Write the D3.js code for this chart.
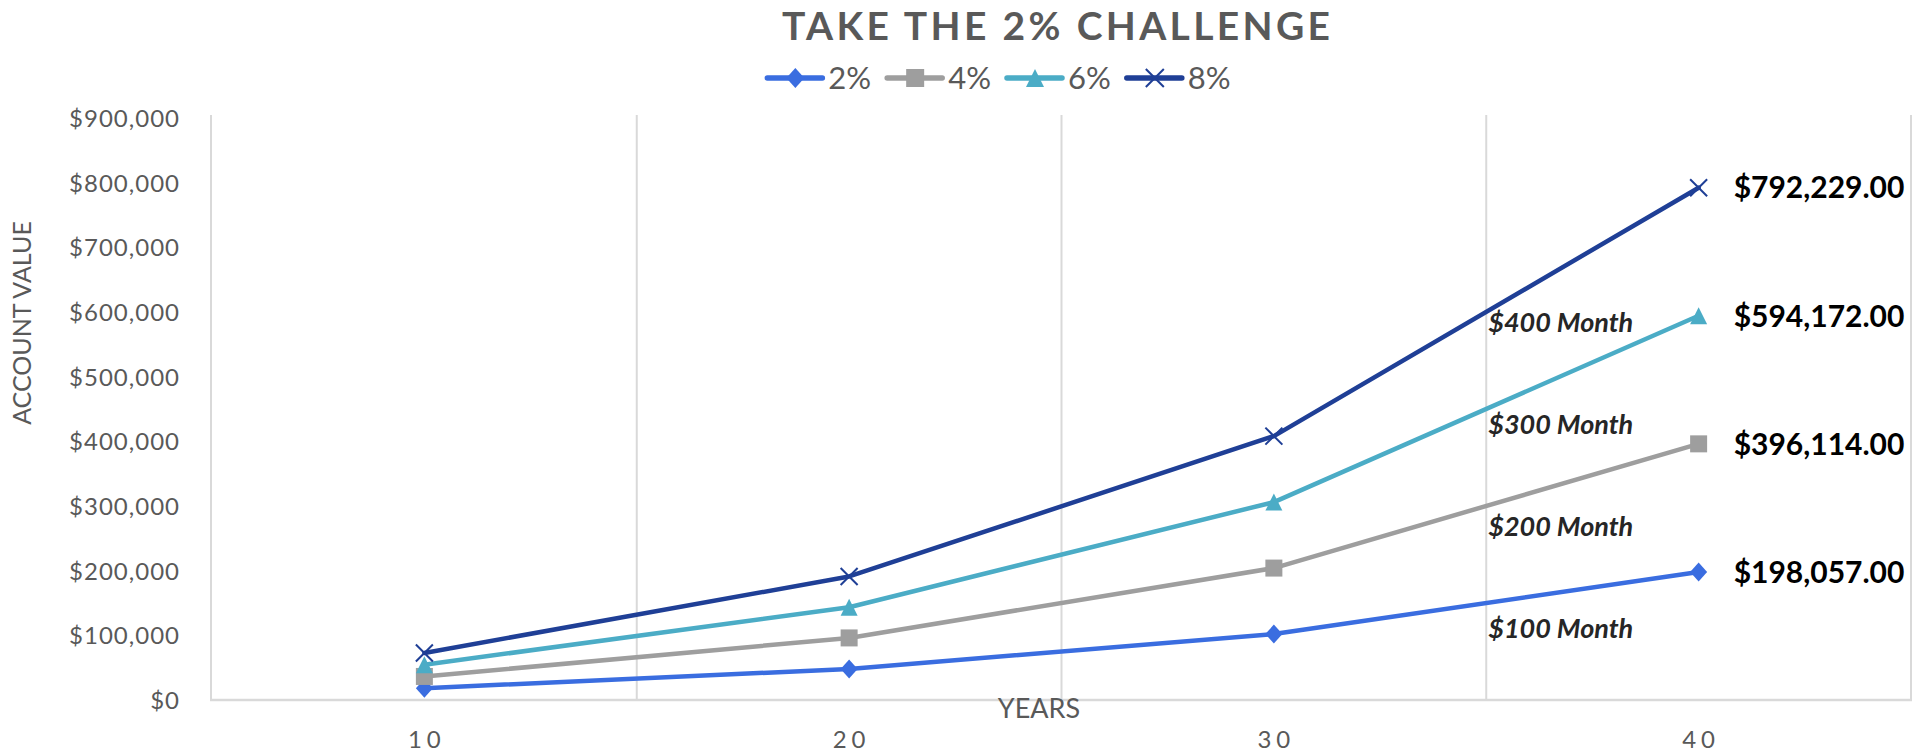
<!DOCTYPE html>
<html><head><meta charset="utf-8">
<script src="https://cdn.jsdelivr.net/npm/d3@7"></script>
<style>
html,body{margin:0;padding:0;background:#fff;}
svg{display:block;font-family:Lato,"Open Sans",sans-serif;}
</style></head><body>
<svg id="chart" width="1931" height="756"></svg>
<script>
// ---- data ----
const years = ["10", "20", "30", "40"];
const seriesNames = ["2%", "4%", "6%", "8%"];
const values2 = [18200, 48000, 102000, 198057];
const values4 = [36400, 96000, 204000, 396114];
const values6 = [54600, 143500, 306000, 594172];
const values8 = [72800, 191000, 408100, 792229];
const endLabels = ["$198,057.00", "$396,114.00", "$594,172.00", "$792,229.00"];
const monthNotes = ["$100 Month", "$200 Month", "$300 Month", "$400 Month"];
const yTicks = [0, 100000, 200000, 300000, 400000, 500000, 600000, 700000, 800000, 900000];
const chartTitle = "TAKE THE 2% CHALLENGE";
const xTitle = "YEARS";
const yTitle = "ACCOUNT VALUE";

// ---- styles / layout ----
const colors = ["#3a6de0", "#9e9e9e", "#4bacc6", "#1f3f96"];
const markerTypes = ["diamond", "square", "triangle", "x"];
const noteOffsets = [35, 30, 25, 20];
const axisGray = "#595959";
const gridGray = "#d9d9d9";
const M = {left: 212, right: 1911, top: 118, bottom: 700};

const allValues = [values2, values4, values6, values8];
const series = seriesNames.map((n, i) => ({name: n, values: allValues[i], color: colors[i], marker: markerTypes[i], label: endLabels[i], note: monthNotes[i], off: noteOffsets[i]}));

const svg = d3.select("#chart");
const x = d3.scaleBand().domain(years).range([M.left, M.right]).padding(0);
const bw = x.bandwidth();
const cx = d => x(d) + bw / 2;
const y = d3.scaleLinear().domain([0, 900000]).range([M.bottom, M.top]);

// grid lines (vertical, at band boundaries)
svg.append("g").selectAll("line").data(years).join("line")
  .attr("x1", d => x(d) + bw).attr("x2", d => x(d) + bw)
  .attr("y1", M.top - 3).attr("y2", M.bottom)
  .attr("stroke", gridGray).attr("stroke-width", 2);
// left axis line
svg.append("line").attr("x1", M.left - 1).attr("x2", M.left - 1)
  .attr("y1", M.top - 3).attr("y2", M.bottom + 1)
  .attr("stroke", gridGray).attr("stroke-width", 2);
// bottom axis line
svg.append("line").attr("x1", M.left - 2).attr("x2", M.right + 1)
  .attr("y1", M.bottom).attr("y2", M.bottom)
  .attr("stroke", gridGray).attr("stroke-width", 2.5);

// y axis
const yAxis = svg.append("g").attr("transform", `translate(${M.left - 32},0)`)
  .call(d3.axisLeft(y).tickValues(yTicks).tickFormat(d3.format("$,.0f")).tickSize(0).tickPadding(0));
yAxis.select(".domain").remove();
yAxis.selectAll("text").attr("fill", axisGray).style("font-family", "Lato").style("font-size", "24px")
  .style("letter-spacing", "1px").attr("dy", "0.35em");

// x axis
const xAxis = svg.append("g").attr("transform", `translate(0,${M.bottom})`)
  .call(d3.axisBottom(x).tickSize(0).tickPadding(0));
xAxis.select(".domain").remove();
xAxis.selectAll("text").attr("fill", axisGray).style("font-family", "Lato").style("font-size", "24px")
  .style("letter-spacing", "5px").attr("dy", null).attr("y", 48).attr("dx", "2.5px");

// axis titles
svg.append("text").attr("x", 1039).attr("y", 718).attr("text-anchor", "middle")
  .attr("fill", axisGray).style("font-size", "27px").text(xTitle);
svg.append("text").attr("transform", "translate(31,323) rotate(-90)").attr("text-anchor", "middle")
  .attr("fill", axisGray).style("font-size", "25px").text(yTitle);

// chart title
const t = svg.append("text").attr("y", 40).attr("fill", axisGray)
  .style("font-size", "39px").style("font-weight", "700").text(chartTitle);
const natural = t.node().getComputedTextLength();
const targetW = 548;
const ls = (targetW - natural) / (chartTitle.length - 1);
t.style("letter-spacing", ls + "px").attr("x", 1056 - targetW / 2);

// markers
function markerPath(type, s) {
  const h = s / 2;
  if (type === "diamond") return `M0,${-h - 1}L${h},0L0,${h + 1}L${-h},0Z`;
  if (type === "square") return `M${-h},${-h}H${h}V${h}H${-h}Z`;
  if (type === "triangle") return `M0,${-h}L${h},${h}L${-h},${h}Z`;
  return `M${-h},${-h}L${h},${h}M${h},${-h}L${-h},${h}`;
}
function drawMarker(g, type, color, s) {
  const p = g.append("path").attr("d", markerPath(type, s));
  if (type === "x") p.attr("fill", "none").attr("stroke", color).attr("stroke-width", 2);
  else p.attr("fill", color);
}

const line = d3.line().x((d, i) => cx(years[i])).y(d => y(d));

const sg = svg.append("g").selectAll("g").data(series).join("g");
sg.append("path").attr("d", d => line(d.values)).attr("fill", "none")
  .attr("stroke", d => d.color).attr("stroke-width", 4.5).attr("stroke-linejoin", "round").attr("stroke-linecap", "round");
sg.each(function(d) {
  const g = d3.select(this);
  d.values.forEach((v, i) => {
    const mg = g.append("g").attr("transform", `translate(${cx(years[i])},${y(v)})`);
    drawMarker(mg, d.marker, d.color, 17);
  });
  // end label
  const last = d.values[d.values.length - 1];
  g.append("text").attr("x", cx(years[years.length - 1]) + 35).attr("y", y(last)).attr("dy", "0.36em")
    .attr("fill", "#000").style("font-size", "30px").style("font-weight", "700").text(d.label);
  // month note at boundary between 30 and 40
  const bx = x(years[years.length - 1]);
  const mid = (d.values[2] + d.values[3]) / 2;
  g.append("text").attr("x", bx + 2).attr("y", y(mid) + d.off)
    .attr("fill", "#262626").style("font-size", "27px").style("font-weight", "700").style("font-style", "italic")
    .text(d.note);
});

// legend
const lg = svg.append("g");
let lx = 0;
series.forEach(d => {
  const it = lg.append("g").attr("transform", `translate(${lx},0)`);
  it.append("line").attr("x1", 2).attr("x2", 57).attr("y1", 0).attr("y2", 0)
    .attr("stroke", d.color).attr("stroke-width", 5.5).attr("stroke-linecap", "round");
  drawMarker(it.append("g").attr("transform", "translate(30,0)"), d.marker, d.color, 18);
  const tx = it.append("text").attr("x", 63).attr("y", 0).attr("dy", "0.36em").attr("fill", axisGray)
    .style("font-size", "31px").text(d.name);
  lx += 63 + tx.node().getComputedTextLength() + 14;
});
lg.attr("transform", `translate(${998 - (lx - 14) / 2},78)`);
</script>
</body></html>
